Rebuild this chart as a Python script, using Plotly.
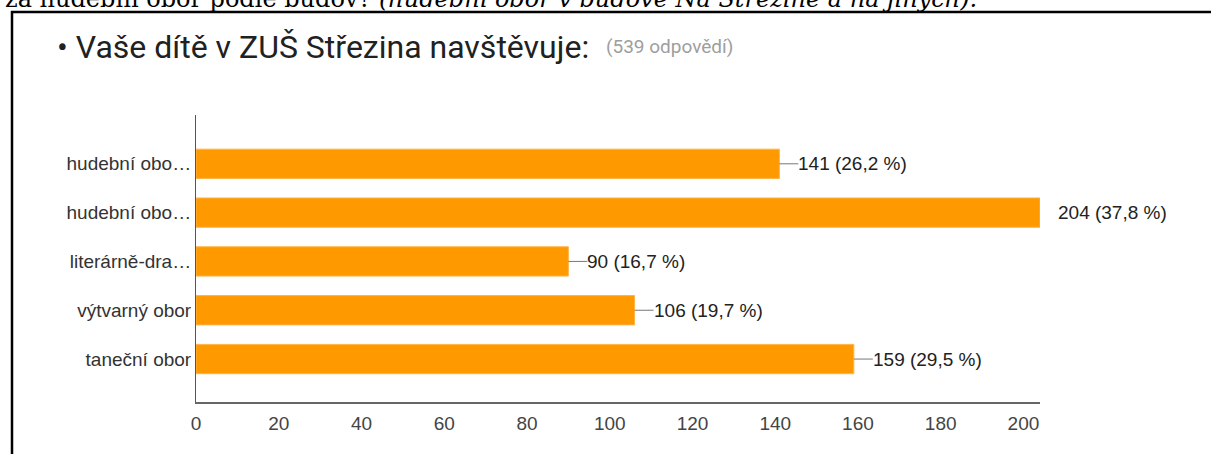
import plotly.graph_objects as go

# ---- data ----
categories = ["hudební obor (Na Střezině)", "hudební obor (jiné budovy)",
              "literárně-dramatický obor", "výtvarný obor", "taneční obor"]
tick_labels = ["hudební obo…", "hudební obo…", "literárně-dra…", "výtvarný obor", "taneční obor"]
counts = [141, 204, 90, 106, 159]
percents = ["26,2", "37,8", "16,7", "19,7", "29,5"]
x_ticks = [0, 20, 40, 60, 80, 100, 120, 140, 160, 180, 200]
title_text = "• Vaše dítě v ZUŠ Střezina navštěvuje:"
subtitle_text = "(539 odpovědí)"
page_text_plain = "za hudební obor podle budov? "
page_text_italic = "(hudební obor v budově Na Střezině a na jiných)."

W, H = 1211, 454
L, R, T, B = 196, 1040, 115, 402

def px(x):
    return (x - L) / (R - L)

def py(y):
    return (B - y) / (B - T)

fig = go.Figure()
fig.add_trace(go.Bar(
    x=counts, y=categories, orientation="h",
    marker=dict(color="#ff9900", line=dict(color="#ffb347", width=1)),
    width=0.6, hoverinfo="skip",
))

annotations = []
shapes = []
vmax = max(counts)
label_font = dict(family="Liberation Sans, Arial", size=19, color="#222222")
for c, v, p in zip(categories, counts, percents):
    is_max = v == vmax
    stub = 3 if is_max else 19
    shapes.append(dict(type="line", xref="x", yref="y", xsizemode="pixel",
                       xanchor=v, x0=0, x1=stub, y0=c, y1=c, layer="above",
                       line=dict(color="#777777", width=1)))
    annotations.append(dict(x=v, y=c, xref="x", yref="y", text=f"{v} ({p} %)",
                            showarrow=False, xanchor="left", xshift=16 if is_max else 17,
                            font=label_font))

# title
annotations.append(dict(x=px(55), y=py(47), xref="paper", yref="paper",
                        text=title_text, showarrow=False, xanchor="left", yanchor="middle",
                        font=dict(family="Roboto", size=32, color="#212121")))
annotations.append(dict(x=px(604), y=py(46), xref="paper", yref="paper",
                        text=subtitle_text, showarrow=False, xanchor="left", yanchor="middle",
                        font=dict(family="Roboto", size=19, color="#9e9e9e")))
# clipped page text above the box
annotations.append(dict(x=px(3), y=py(-1), xref="paper", yref="paper",
                        text=page_text_plain + "<i>" + page_text_italic + "</i>",
                        showarrow=False, xanchor="left", yanchor="middle",
                        font=dict(family="DejaVu Serif", size=24, color="#000000")))

# box border (left and top)
shapes.append(dict(type="line", xref="paper", yref="paper", x0=px(12), x1=px(12),
                   y0=py(11), y1=py(460), line=dict(color="#000000", width=2.5)))
shapes.append(dict(type="line", xref="paper", yref="paper", x0=px(11), x1=px(1215),
                   y0=py(12), y1=py(12), line=dict(color="#000000", width=2.5)))

fig.update_layout(
    width=W, height=H,
    margin=dict(l=L, r=W - R, t=T, b=H - B, pad=0),
    paper_bgcolor="white", plot_bgcolor="white",
    showlegend=False, bargap=0.4,
    annotations=annotations, shapes=shapes,
    xaxis=dict(range=[0, vmax], tickvals=x_ticks, showgrid=False, zeroline=False,
               showline=True, linecolor="#666666", linewidth=2, ticks="",
               tickfont=dict(family="Liberation Sans, Arial", size=19, color="#444444"),
               ticklabelstandoff=3, fixedrange=True),
    yaxis=dict(categoryorder="array", categoryarray=categories[::-1],
               tickvals=categories, ticktext=tick_labels,
               range=[-0.88, 5.0], showgrid=False, zeroline=False,
               showline=True, linecolor="#555555", linewidth=1, ticks="",
               tickfont=dict(family="Liberation Sans, Arial", size=19, color="#333333"),
               ticklabelstandoff=0, fixedrange=True),
)

fig.write_html("out.html", config={"displayModeBar": False},
               post_script="document.body.style.margin='0px';document.body.style.overflow='hidden';")
